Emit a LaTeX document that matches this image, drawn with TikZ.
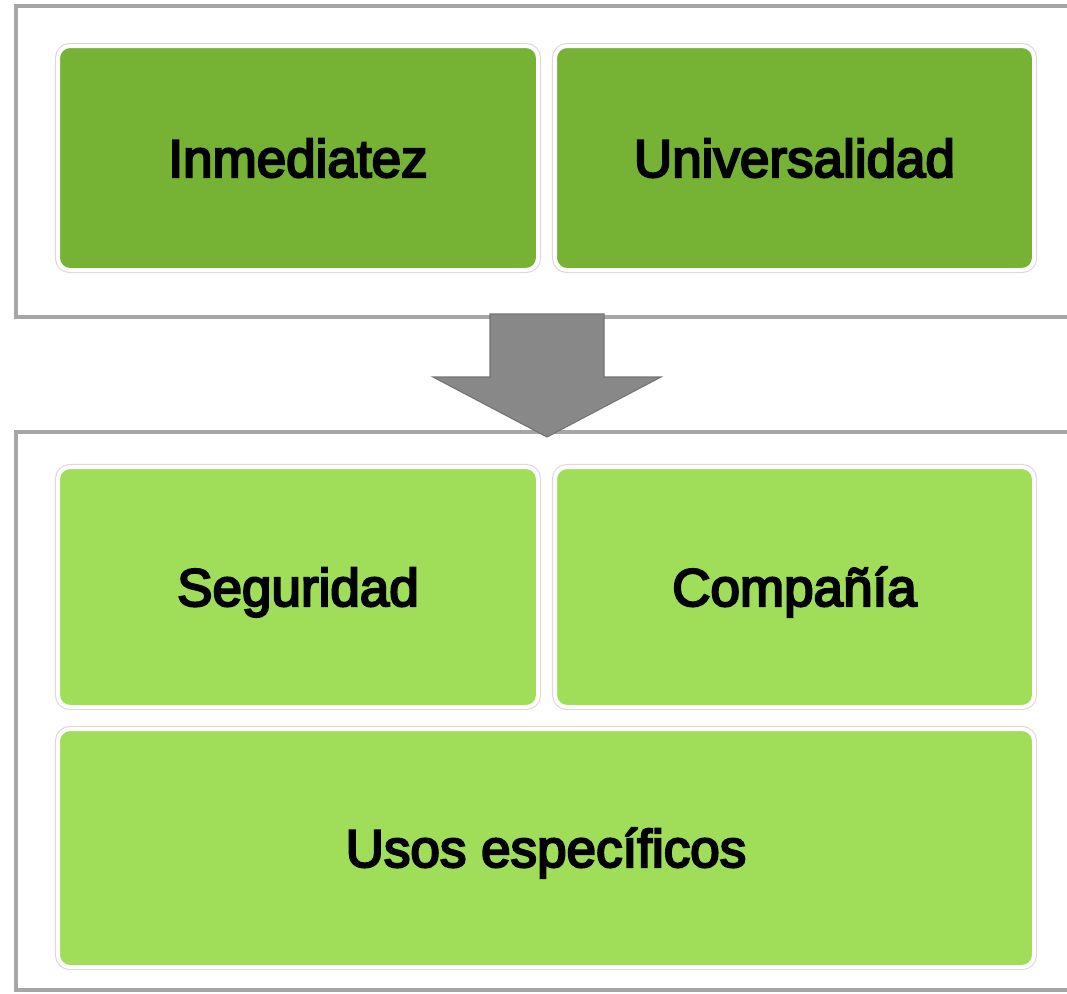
\documentclass[tikz,border=0pt]{standalone}
\usepackage{fontspec}
\setmainfont{Liberation Sans}
\newfontfamily\blockfont[FakeBold=4]{Liberation Sans}
\usetikzlibrary{positioning,shadows}
\definecolor{TopGreen}{RGB}{118,178,52}
\definecolor{LowGreen}{RGB}{160,222,90}
\definecolor{ArrowGray}{RGB}{136,136,136}

\begin{document}
\begin{tikzpicture}[
        x=0.75pt, y=-0.75pt,
        node distance = 12.75pt,
        Frame/.style={draw=black!35, line width=3pt, fill=white, anchor=north west, minimum width=805.5pt, outer sep=0pt,
            drop shadow={opacity=0.35, shadow xshift=-1.5pt, shadow yshift=-1.5pt}},
        Block/.style={rounded corners=9pt, draw=white, line width=3pt, preaction={draw=black!15, line width=4.6pt},
            text height=28.5pt, text depth=0pt, font=\blockfont\fontsize{39.75}{48}\selectfont, outer sep=0pt, inner sep=0pt},
        TopBlock/.style={Block, fill=TopGreen, minimum height=168pt},
        LowBlock/.style={Block, fill=LowGreen, minimum height=180pt},
        ArrowBody/.style={fill=ArrowGray, draw=black!55, line width=0.8pt, line join=miter},
    ]
    \useasboundingbox (0,0) rectangle (1067,993);

    % frames
    \node [Frame, minimum height=233.25pt] (upper) at (16,6) {};
    \node [Frame, minimum height=418.5pt] (lower) at (16,432) {};

    % upper row
    \node [TopBlock, minimum width=360pt] (inmed) at (298,158) {Inmediatez};
    \node [TopBlock, minimum width=359.25pt, right=of inmed] (univ) {Universalidad};

    % lower rows
    \node [LowBlock, minimum width=360pt] (segur) at (298,587) {Seguridad};
    \node [LowBlock, minimum width=359.25pt, right=of segur] (comp) {Compañía};
    \node [LowBlock, minimum width=732pt, minimum height=178.5pt, anchor=north west] (usos)
        at ([yshift=-16.5pt]segur.south west) {Usos específicos};

    % arrow
    \coordinate (tip) at (547,437);
    \filldraw [ArrowBody] (tip) -- ++(114,-60) -- ++(-57,0) -- ++(0,-63) -- ++(-114,0)
        -- ++(0,63) -- ++(-57,0) -- cycle;
\end{tikzpicture}
\end{document}
